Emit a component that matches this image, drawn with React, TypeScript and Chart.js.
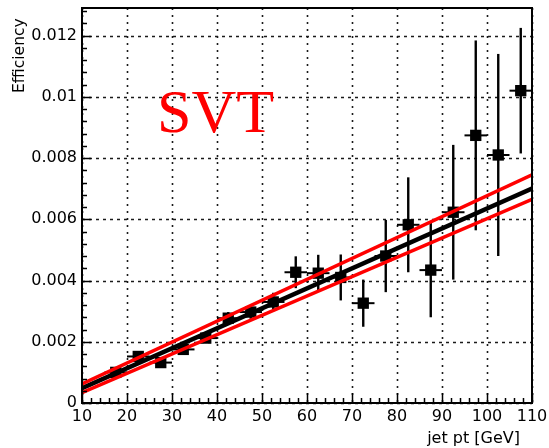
import React, { useEffect, useRef } from "react";
import { Chart, registerables } from "chart.js";

Chart.register(...registerables);

// ---- data ----
const xCenters = [17.5, 22.5, 27.5, 32.5, 37.5, 42.5, 47.5, 52.5, 57.5, 62.5, 67.5, 72.5, 77.5, 82.5, 87.5, 92.5, 97.5, 102.5, 107.5];
const effValues = [0.0010, 0.00152, 0.00132, 0.00175, 0.00212, 0.00277, 0.00297, 0.0033, 0.00427, 0.00424, 0.0041, 0.00326, 0.0048, 0.00582, 0.00434, 0.00623, 0.00874, 0.0081, 0.0102];
const effErrors = [0.00008, 0.0001, 0.0001, 0.00012, 0.00015, 0.0002, 0.00022, 0.0003, 0.00052, 0.0006, 0.00075, 0.00077, 0.00118, 0.00155, 0.00154, 0.0022, 0.0031, 0.0033, 0.00205];
const binHalfWidth = 2.5;

const fitX = [10, 110];
const fitCentral = [0.00048, 0.007];
const fitUpper = [0.00062, 0.00745];
const fitLower = [0.00034, 0.00665];

const xTicks = [10, 20, 30, 40, 50, 60, 70, 80, 90, 100, 110];
const xTickLabels = ["10", "20", "30", "40", "50", "60", "70", "80", "90", "100", "110"];
const yTicks = [0, 0.002, 0.004, 0.006, 0.008, 0.01, 0.012];
const yTickLabels = ["0", "0.002", "0.004", "0.006", "0.008", "0.01", "0.012"];
const xMinorStep = 2;
const yMinorStep = 0.0004;

const X_MIN = 10, X_MAX = 110, Y_MIN = 0, Y_MAX = 0.0129;

const FONT = "DejaVu Sans";

const rootPlugin = {
  id: "rootStyle",
  beforeDatasetsDraw(chart: any) {
    const { ctx, chartArea: a } = chart;
    const xs = chart.scales.x, ys = chart.scales.y;
    ctx.save();
    // dotted grid
    ctx.strokeStyle = "#1a1a1a";
    ctx.lineWidth = 1.6;
    ctx.setLineDash([2, 5]);
    xTicks.forEach((v) => {
      const px = Math.round(xs.getPixelForValue(v)) + 0.5;
      ctx.beginPath(); ctx.moveTo(px, a.top); ctx.lineTo(px, a.bottom); ctx.stroke();
    });
    ctx.setLineDash([3, 4]);
    yTicks.forEach((v) => {
      const py = Math.round(ys.getPixelForValue(v)) + 0.5;
      ctx.beginPath(); ctx.moveTo(a.left, py); ctx.lineTo(a.right, py); ctx.stroke();
    });
    ctx.setLineDash([]);
    // error bars
    ctx.strokeStyle = "#000";
    xCenters.forEach((x, i) => {
      const px = xs.getPixelForValue(x);
      const py = ys.getPixelForValue(effValues[i]);
      ctx.lineWidth = 2.4;
      ctx.beginPath();
      ctx.moveTo(px, ys.getPixelForValue(effValues[i] - effErrors[i]));
      ctx.lineTo(px, ys.getPixelForValue(effValues[i] + effErrors[i]));
      ctx.stroke();
      ctx.lineWidth = 2;
      ctx.beginPath();
      ctx.moveTo(xs.getPixelForValue(x - binHalfWidth), py);
      ctx.lineTo(xs.getPixelForValue(x + binHalfWidth), py);
      ctx.stroke();
    });
    ctx.restore();
  },
  afterDraw(chart: any) {
    const { ctx, chartArea: a } = chart;
    const xs = chart.scales.x, ys = chart.scales.y;
    ctx.save();
    ctx.strokeStyle = "#000";
    ctx.lineWidth = 2;
    ctx.strokeRect(a.left, a.top, a.right - a.left, a.bottom - a.top);
    // ticks (inward)
    ctx.lineWidth = 1.5;
    for (let k = 0; X_MIN + k * xMinorStep <= X_MAX + 1e-9; k++) {
      const v = X_MIN + k * xMinorStep;
      const major = xTicks.some((t) => Math.abs(t - v) < 1e-9);
      const px = Math.round(xs.getPixelForValue(v)) + 0.5;
      ctx.beginPath(); ctx.moveTo(px, a.bottom); ctx.lineTo(px, a.bottom - (major ? 10 : 5)); ctx.stroke();
    }
    for (let k = 0; Y_MIN + k * yMinorStep <= Y_MAX + 1e-12; k++) {
      const v = Y_MIN + k * yMinorStep;
      const major = yTicks.some((t) => Math.abs(t - v) < 1e-9);
      const py = Math.round(ys.getPixelForValue(v)) + 0.5;
      ctx.beginPath(); ctx.moveTo(a.left, py); ctx.lineTo(a.left + (major ? 9 : 5), py); ctx.stroke();
    }
    // axis titles
    ctx.fillStyle = "#000";
    ctx.font = `16px "${FONT}"`;
    ctx.textAlign = "right";
    ctx.textBaseline = "alphabetic";
    ctx.fillText("jet pt [GeV]", 520, 443);
    ctx.save();
    ctx.translate(24, 93);
    ctx.rotate(-Math.PI / 2);
    ctx.font = `15.5px "${FONT}"`;
    ctx.textAlign = "left";
    ctx.fillText("Efficiency", 0, 0);
    ctx.restore();
    // SVT label
    ctx.fillStyle = "#ff0000";
    ctx.font = `62px "Liberation Serif"`;
    ctx.textAlign = "left";
    ctx.fillText("SVT", 157, 132);
    ctx.restore();
  },
};

export default function App() {
  const ref = useRef<HTMLCanvasElement | null>(null);
  useEffect(() => {
    if (!ref.current) return;
    const line = (ys: number[], color: string, w: number) => ({
      type: "line" as const,
      data: fitX.map((x, i) => ({ x, y: ys[i] })),
      borderColor: color,
      borderWidth: w,
      pointRadius: 0,
      fill: false,
    });
    const chart = new Chart(ref.current, {
      type: "scatter",
      data: {
        datasets: [
          line(fitUpper, "#ff0000", 3.5) as any,
          line(fitLower, "#ff0000", 3.5) as any,
          line(fitCentral, "#000000", 4.5) as any,
          {
            type: "scatter",
            data: xCenters.map((x, i) => ({ x, y: effValues[i] })),
            pointStyle: "rect",
            pointRadius: 8,
            backgroundColor: "#000",
            borderColor: "#000",
            borderWidth: 0,
          },
        ],
      },
      options: {
        animation: false,
        responsive: false,
        layout: { padding: { left: 0, right: 17, top: 8, bottom: 0 } },
        plugins: { legend: { display: false }, tooltip: { enabled: false } },
        scales: {
          x: {
            type: "linear",
            min: X_MIN,
            max: X_MAX,
            grid: { display: false, drawTicks: false },
            border: { display: false },
            afterBuildTicks: (s: any) => { s.ticks = xTicks.map((v) => ({ value: v })); },
            afterFit: (s: any) => { s.height = 45; s.paddingLeft = 0; s.paddingRight = 0; s.paddingTop = 0; s.paddingBottom = 0; },
            ticks: {
              autoSkip: false,
              maxRotation: 0,
              padding: 4,
              color: "#000",
              font: { family: FONT, size: 16 },
              callback: (_v: any, i: number) => xTickLabels[i],
            },
          },
          y: {
            type: "linear",
            min: Y_MIN,
            max: Y_MAX,
            grid: { display: false, drawTicks: false },
            border: { display: false },
            afterBuildTicks: (s: any) => { s.ticks = yTicks.map((v) => ({ value: v })); },
            afterFit: (s: any) => { s.width = 82; s.paddingLeft = 0; s.paddingRight = 0; s.paddingTop = 0; s.paddingBottom = 0; },
            ticks: {
              autoSkip: false,
              padding: 5,
              color: "#000",
              font: { family: FONT, size: 16 },
              callback: (_v: any, i: number) => yTickLabels[i],
            },
          },
        },
      },
      plugins: [rootPlugin],
    } as any);
    return () => chart.destroy();
  }, []);
  return (
    <div style={{ position: "fixed", left: 0, top: 0, width: 549, height: 448, background: "#fff" }}>
      <canvas ref={ref} width={549} height={448} style={{ width: 549, height: 448 }} />
    </div>
  );
}
